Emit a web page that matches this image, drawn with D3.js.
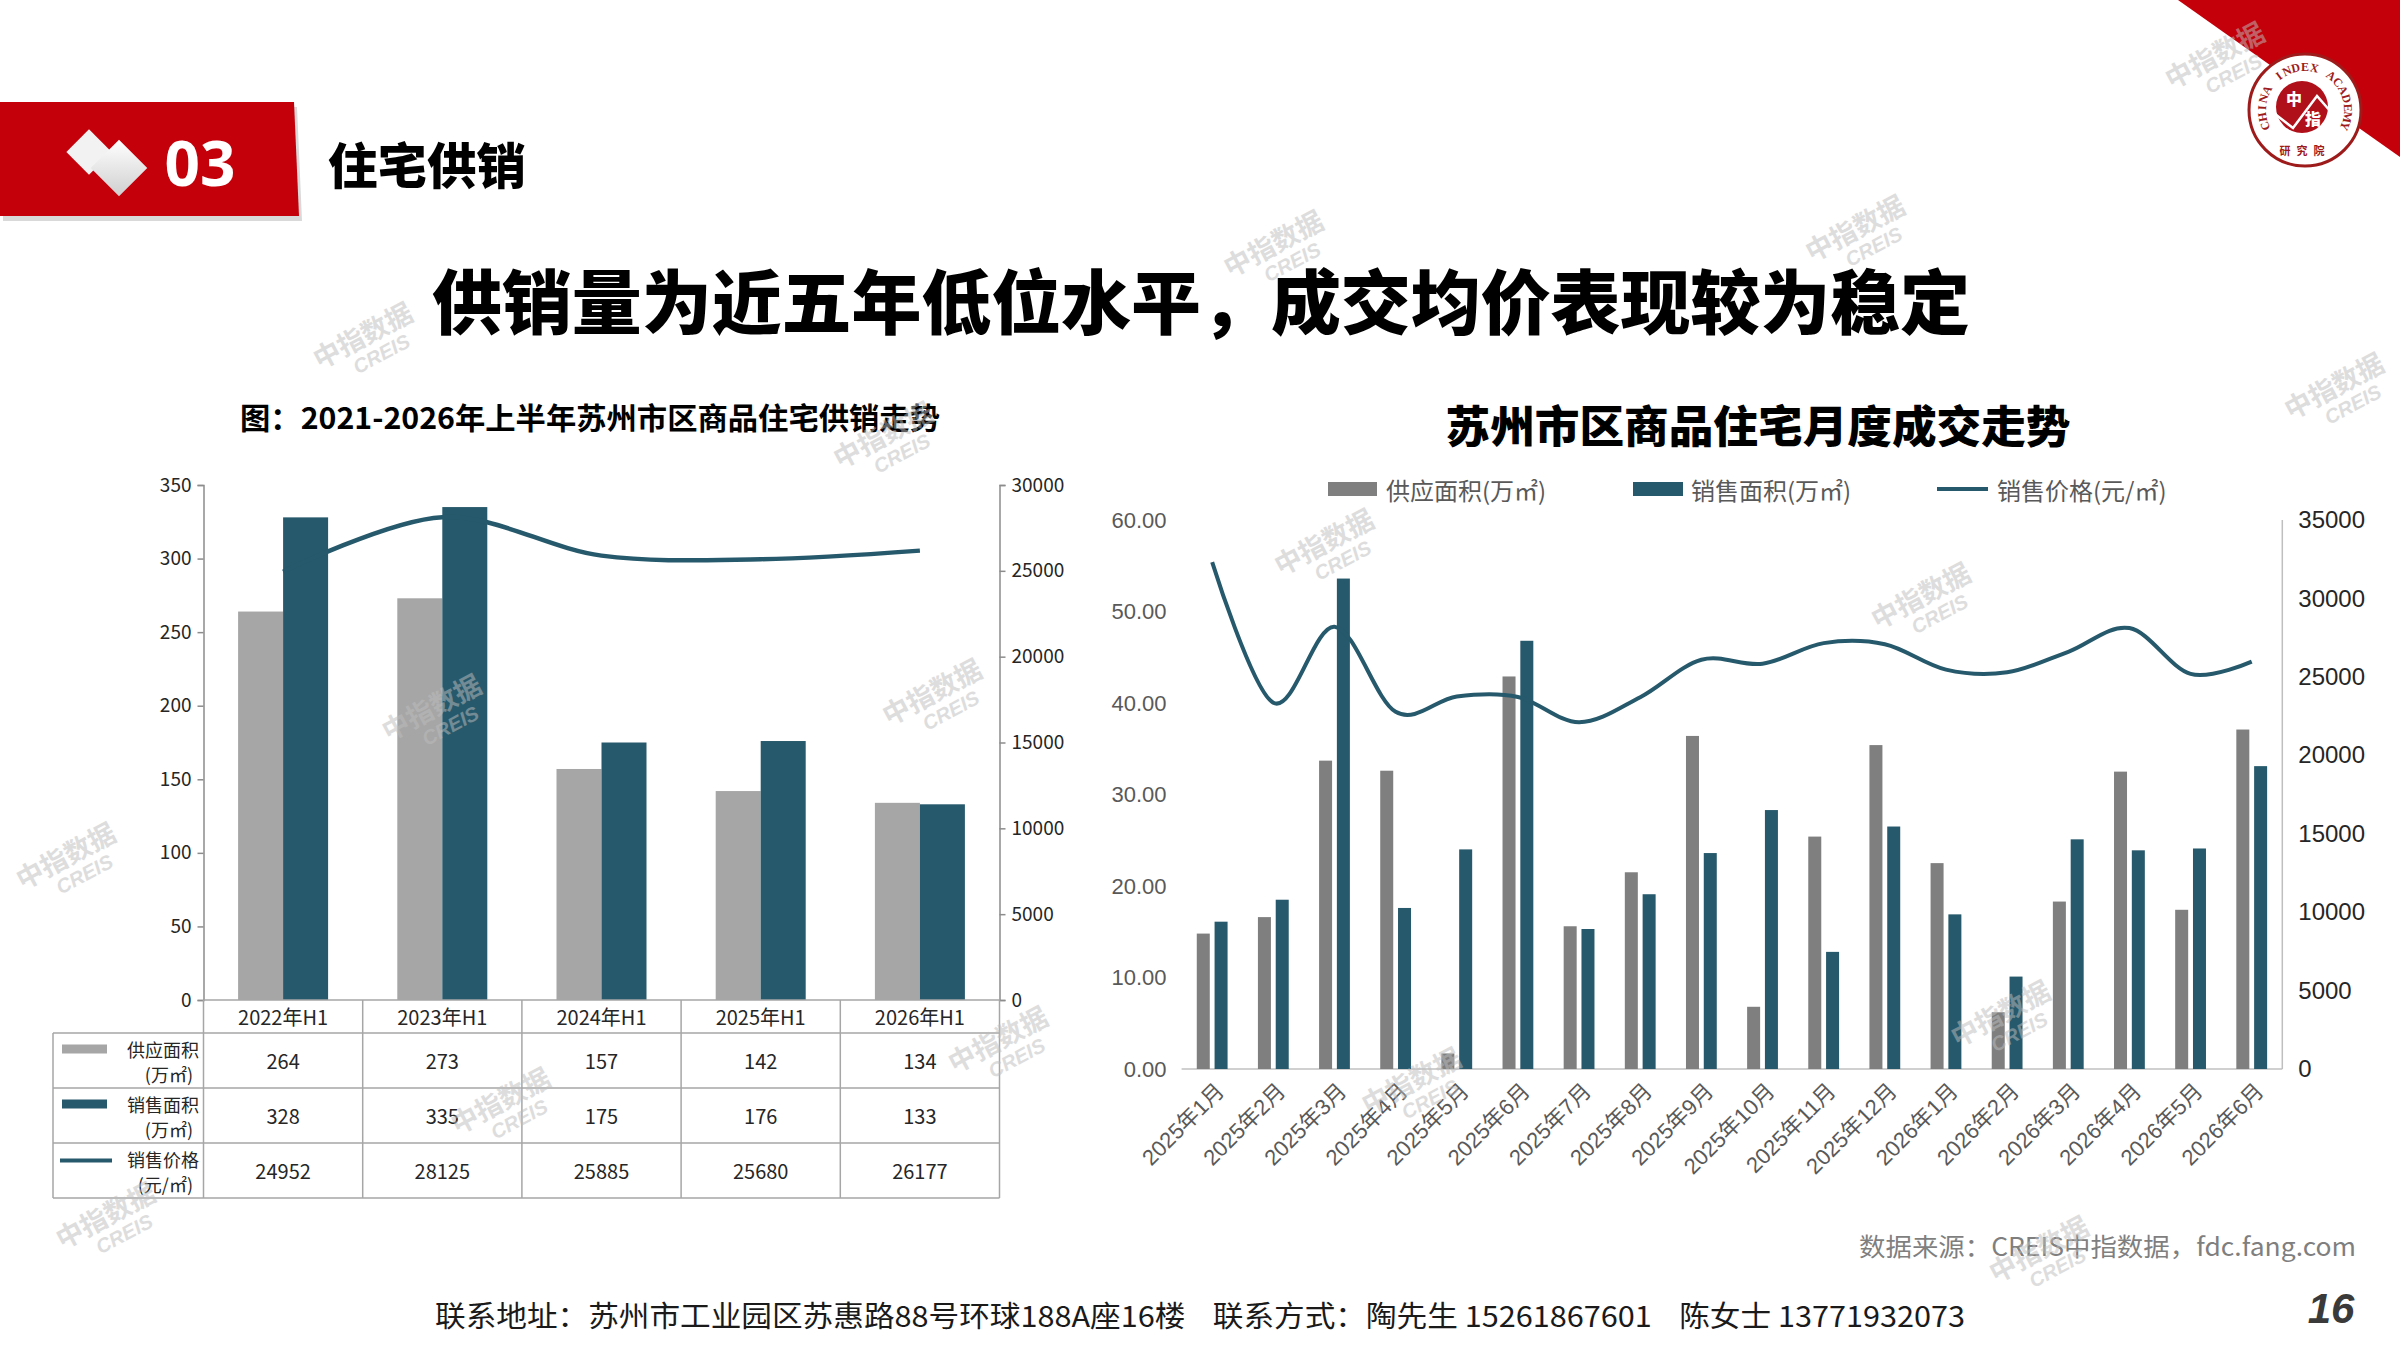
<!DOCTYPE html>
<html>
<head>
<meta charset="utf-8">
<script src="https://cdn.jsdelivr.net/npm/d3@7"></script>
<style>
body { margin: 0; background: #fff; }
svg { display: block; }
</style>
</head>
<body>
<svg id="mysvg" width="2400" height="1350"></svg>
<script>
// left chart: half-year data
var halfYears = ["2022年H1", "2023年H1", "2024年H1", "2025年H1", "2026年H1"];
var halfSupply = [264, 273, 157, 142, 134];
var halfSales = [328, 335, 175, 176, 133];
var halfPrice = [24952, 28125, 25885, 25680, 26177];
var halfAreaTicks = [0, 50, 100, 150, 200, 250, 300, 350];
var halfPriceTicks = [0, 5000, 10000, 15000, 20000, 25000, 30000];
var halfRowNames = [["供应面积", "(万㎡)"], ["销售面积", "(万㎡)"], ["销售价格", "(元/㎡)"]];

// right chart: monthly data
var months = ["2025年1月", "2025年2月", "2025年3月", "2025年4月", "2025年5月", "2025年6月",
	"2025年7月", "2025年8月", "2025年9月", "2025年10月", "2025年11月", "2025年12月",
	"2026年1月", "2026年2月", "2026年3月", "2026年4月", "2026年5月", "2026年6月"];
var monthSupply = [14.8, 16.6, 33.7, 32.6, 1.7, 42.9, 15.6, 21.5, 36.4, 6.8, 25.4, 35.4, 22.5, 6.2, 18.3, 32.5, 17.4, 37.1];
var monthSales = [16.1, 18.5, 53.6, 17.6, 24.0, 46.8, 15.3, 19.1, 23.6, 28.3, 12.8, 26.5, 16.9, 10.1, 25.1, 23.9, 24.1, 33.1];
var monthPrice = [32320, 23350, 28200, 22770, 23750, 23720, 22110, 23700, 26090, 25840, 27150, 27080, 25460, 25290, 26600, 28110, 25190, 25970];
var monthAreaTicks = [0, 10, 20, 30, 40, 50, 60];
var monthPriceTicks = [0, 5000, 10000, 15000, 20000, 25000, 30000, 35000];
var monthLegend = ["供应面积(万㎡)", "销售面积(万㎡)", "销售价格(元/㎡)"];

var GREY_L = "#a6a6a6";
var GREY_R = "#7f7f7f";
var NAVY = "#26596b";
var RED = "#c4000b";
var CJK = "'Noto Sans CJK SC', 'Noto Sans', sans-serif";
var ARIAL = "'Liberation Sans', 'Noto Sans CJK SC', sans-serif";

var svg = d3.select("#mysvg");

function drawWatermarks () {
	var spots = [[240,225],[835,165],[1215,155],[580,290],[868,360],[1258,395],[285,468],[612,458],
		[46,565],[655,685],[330,725],[925,712],[1310,668],[1528,258],[72,800],[1335,822],[1450,42]];
	var g = svg.append("g").attr("class", "watermarks");
	spots.forEach(function (p) {
		var w = g.append("g")
			.attr("transform", "translate(" + (p[0] * 1.5306) + "," + (p[1] * 1.5306) + ") rotate(-28)")
			.attr("fill", "#bdbdbd").attr("opacity", 0.5);
		w.append("text").attr("text-anchor", "middle").attr("font-family", CJK)
			.attr("font-size", 27).attr("font-weight", 700).text("中指数据");
		w.append("text").attr("x", 8).attr("y", 22).attr("text-anchor", "middle").attr("font-family", ARIAL)
			.attr("font-size", 20).attr("font-style", "italic").attr("font-weight", 700).text("CREIS");
	});
}

function drawHeader () {
	svg.append("path").attr("d", "M0,104 L294,104 L299,218 L0,218 Z").attr("fill", "#d9d9d9").attr("transform", "translate(3,3)");
	svg.append("path").attr("d", "M0,102 L294,102 L299,216 L0,216 Z").attr("fill", RED);

	var defs = svg.append("defs");
	var grad = defs.append("linearGradient").attr("id", "diag").attr("x1", 0).attr("y1", 0).attr("x2", 1).attr("y2", 1);
	grad.append("stop").attr("offset", "0%").attr("stop-color", "#ffffff");
	grad.append("stop").attr("offset", "100%").attr("stop-color", "#cfcfcf");

	svg.append("rect").attr("x", -16).attr("y", -16).attr("width", 32).attr("height", 32)
		.attr("fill", "#f2f2f2").attr("transform", "translate(89,152) rotate(45)");
	svg.append("rect").attr("x", -20).attr("y", -20).attr("width", 40).attr("height", 40)
		.attr("fill", "url(#diag)").attr("transform", "translate(119,168) rotate(45)");

	svg.append("text").attr("x", 200).attr("y", 162).attr("text-anchor", "middle").attr("dominant-baseline", "central")
		.attr("font-family", "'Open Sans', 'Noto Sans', sans-serif").attr("font-weight", 700).attr("font-size", 62)
		.attr("fill", "#fff").text("03");
	svg.append("text").attr("x", 328).attr("y", 162).attr("dominant-baseline", "central")
		.attr("font-family", CJK).attr("font-weight", 900).attr("font-size", 49)
		.attr("textLength", 198).attr("lengthAdjust", "spacingAndGlyphs")
		.attr("fill", "#000").text("住宅供销");

	// corner triangle and logo
	svg.append("path").attr("d", "M2178,0 L2400,0 L2400,157 Z").attr("fill", RED);
	var logo = svg.append("g").attr("transform", "translate(2305,110)");
	logo.append("circle").attr("r", 56).attr("fill", "#fff").attr("stroke", "#9e1b1b").attr("stroke-width", 3);
	logo.append("circle").attr("r", 26).attr("cx", -3).attr("cy", -3).attr("fill", "#b0101a");
	var ring = "CHINA INDEX ACADEMY".split("");
	logo.selectAll(".ring").data(ring).enter().append("text")
		.attr("transform", function (d, i) {
			var a = -112 + i * 224 / (ring.length - 1);
			var r = a * Math.PI / 180;
			return "translate(" + (43 * Math.sin(r)) + "," + (-43 * Math.cos(r)) + ") rotate(" + a + ")";
		})
		.attr("text-anchor", "middle").attr("dominant-baseline", "central")
		.attr("font-family", "'Liberation Serif', serif").attr("font-size", 12).attr("font-weight", 700)
		.attr("fill", "#9e1b1b").text(function (d) { return d; });
	logo.append("text").attr("x", -11).attr("y", -5).attr("text-anchor", "middle").attr("font-family", CJK)
		.attr("font-size", 16).attr("font-weight", 900).attr("fill", "#fff").text("中");
	logo.append("text").attr("x", 8).attr("y", 15).attr("text-anchor", "middle").attr("font-family", CJK)
		.attr("font-size", 16).attr("font-weight", 900).attr("fill", "#fff").text("指");
	logo.append("path").attr("d", "M-30,4 L-12,18 L12,-14 L26,2").attr("fill", "none").attr("stroke", "#fff").attr("stroke-width", 2.5);
	logo.append("text").attr("y", 45).attr("text-anchor", "middle").attr("font-family", CJK)
		.attr("font-size", 11).attr("font-weight", 700).attr("fill", "#9e1b1b").attr("letter-spacing", 6).text("研究院");

	svg.append("text").attr("x", 1201).attr("y", 298).attr("text-anchor", "middle").attr("dominant-baseline", "central")
		.attr("font-family", CJK).attr("font-weight", 900).attr("font-size", 70)
		.attr("textLength", 1538).attr("lengthAdjust", "spacingAndGlyphs")
		.attr("fill", "#000").text("供销量为近五年低位水平，成交均价表现较为稳定");
}

function drawHalfYearChart () {
	var left = 203.5, right = 999.5, top = 485, bottom = 1000;
	var x = d3.scaleBand().domain(halfYears).range([left, right]);
	var y = d3.scaleLinear().domain([0, 350]).range([bottom, top]);
	var yp = d3.scaleLinear().domain([0, 30000]).range([bottom, top]);
	var bw = 45;

	svg.append("text").attr("x", 590).attr("y", 416).attr("text-anchor", "middle").attr("dominant-baseline", "central")
		.attr("font-family", CJK).attr("font-weight", 700).attr("font-size", 30)
		.attr("textLength", 700).attr("lengthAdjust", "spacingAndGlyphs")
		.attr("fill", "#000").text("图：2021-2026年上半年苏州市区商品住宅供销走势");

	var g = svg.append("g");
	g.selectAll(".supply").data(halfYears).enter().append("rect")
		.attr("x", function (d) { return x(d) + x.bandwidth() / 2 - bw; })
		.attr("y", function (d, i) { return y(halfSupply[i]); })
		.attr("width", bw)
		.attr("height", function (d, i) { return bottom - y(halfSupply[i]); })
		.attr("fill", GREY_L);
	g.selectAll(".sales").data(halfYears).enter().append("rect")
		.attr("x", function (d) { return x(d) + x.bandwidth() / 2; })
		.attr("y", function (d, i) { return y(halfSales[i]); })
		.attr("width", bw)
		.attr("height", function (d, i) { return bottom - y(halfSales[i]); })
		.attr("fill", NAVY);

	var line = d3.line()
		.x(function (d, i) { return x(halfYears[i]) + x.bandwidth() / 2; })
		.y(function (d) { return yp(d); })
		.curve(d3.curveCardinal.tension(0));
	g.append("path").datum(halfPrice).attr("d", line).attr("fill", "none")
		.attr("stroke", NAVY).attr("stroke-width", 4.5);

	var axL = g.append("g").attr("transform", "translate(" + left + ",0)")
		.call(d3.axisLeft(y).tickValues(halfAreaTicks).tickSize(6).tickPadding(6));
	var axR = g.append("g").attr("transform", "translate(" + right + ",0)")
		.call(d3.axisRight(yp).tickValues(halfPriceTicks).tickSize(6).tickPadding(6).tickFormat(d3.format("d")));
	[axL, axR].forEach(function (ax) {
		ax.select(".domain").attr("stroke", "#8c8c8c").attr("stroke-width", 1.5);
		ax.selectAll(".tick line").attr("stroke", "#8c8c8c").attr("stroke-width", 1.5);
		ax.selectAll(".tick text").attr("font-family", CJK).attr("font-size", 19).attr("fill", "#262626");
	});

	// data table under the chart
	var rowTops = [1000, 1033, 1088, 1143, 1198];
	var tableLeft = 53;
	var t = svg.append("g").attr("stroke", "#a6a6a6").attr("stroke-width", 1.5);
	rowTops.forEach(function (ry, i) {
		t.append("line").attr("x1", i == 0 ? left : tableLeft).attr("x2", right).attr("y1", ry).attr("y2", ry);
	});
	halfYears.forEach(function (d) {
		t.append("line").attr("x1", x(d)).attr("x2", x(d)).attr("y1", rowTops[0]).attr("y2", rowTops[4]);
	});
	t.append("line").attr("x1", right).attr("x2", right).attr("y1", rowTops[0]).attr("y2", rowTops[4]);
	t.append("line").attr("x1", tableLeft).attr("x2", tableLeft).attr("y1", rowTops[1]).attr("y2", rowTops[4]);

	var cells = svg.append("g").attr("font-family", CJK).attr("fill", "#262626").attr("text-anchor", "middle");
	cells.selectAll(".hy").data(halfYears).enter().append("text")
		.attr("x", function (d) { return x(d) + x.bandwidth() / 2; })
		.attr("y", (rowTops[0] + rowTops[1]) / 2).attr("dominant-baseline", "central")
		.attr("font-size", 20).text(function (d) { return d; });
	[halfSupply, halfSales, halfPrice].forEach(function (arr, r) {
		cells.selectAll(".v" + r).data(arr).enter().append("text")
			.attr("x", function (d, i) { return x(halfYears[i]) + x.bandwidth() / 2; })
			.attr("y", (rowTops[r + 1] + rowTops[r + 2]) / 2).attr("dominant-baseline", "central")
			.attr("font-size", 20).text(function (d) { return d; });
	});

	halfRowNames.forEach(function (nm, r) {
		var mid = (rowTops[r + 1] + rowTops[r + 2]) / 2;
		cells.append("text").attr("x", 199).attr("y", mid - 12).attr("text-anchor", "end")
			.attr("dominant-baseline", "central").attr("font-size", 18).text(nm[0]);
		cells.append("text").attr("x", 193).attr("y", mid + 13).attr("text-anchor", "end")
			.attr("dominant-baseline", "central").attr("font-size", 18).text(nm[1]);
		if (r < 2) {
			cells.append("rect").attr("x", 62).attr("y", mid - 16).attr("width", 45).attr("height", 9)
				.attr("fill", r == 0 ? GREY_L : NAVY);
		} else {
			cells.append("line").attr("x1", 60).attr("x2", 112).attr("y1", mid - 10).attr("y2", mid - 10)
				.attr("stroke", NAVY).attr("stroke-width", 4);
		}
	});
}

function drawMonthChart () {
	var left = 1181.6, right = 2282.3, top = 520, bottom = 1069;
	var x = d3.scaleBand().domain(months).range([left, right]);
	var y = d3.scaleLinear().domain([0, 60]).range([bottom, top]);
	var yp = d3.scaleLinear().domain([0, 35000]).range([bottom, top]);
	var bw = 13;

	svg.append("text").attr("x", 1758).attr("y", 424).attr("text-anchor", "middle").attr("dominant-baseline", "central")
		.attr("font-family", CJK).attr("font-weight", 900).attr("font-size", 44)
		.attr("textLength", 625).attr("lengthAdjust", "spacingAndGlyphs")
		.attr("fill", "#000").text("苏州市区商品住宅月度成交走势");

	// legend
	var lg = svg.append("g").attr("font-family", CJK).attr("font-size", 24).attr("fill", "#595959");
	var lx = [1328, 1633, 1937];
	lg.append("rect").attr("x", lx[0]).attr("y", 482).attr("width", 49).attr("height", 14).attr("fill", GREY_R);
	lg.append("rect").attr("x", lx[1]).attr("y", 482).attr("width", 50).attr("height", 14).attr("fill", NAVY);
	lg.append("line").attr("x1", lx[2]).attr("x2", lx[2] + 51).attr("y1", 489).attr("y2", 489)
		.attr("stroke", NAVY).attr("stroke-width", 4);
	lg.selectAll(".lt").data(monthLegend).enter().append("text")
		.attr("x", function (d, i) { return lx[i] + (i == 2 ? 60 : 58); })
		.attr("y", 489).attr("dominant-baseline", "central").text(function (d) { return d; });

	var g = svg.append("g");
	g.append("line").attr("x1", left).attr("x2", right).attr("y1", bottom).attr("y2", bottom)
		.attr("stroke", "#d0d0d0").attr("stroke-width", 2);
	g.append("line").attr("x1", right).attr("x2", right).attr("y1", top).attr("y2", bottom)
		.attr("stroke", "#bfbfbf").attr("stroke-width", 1.5);

	g.selectAll(".ms").data(months).enter().append("rect")
		.attr("x", function (d) { return x(d) + x.bandwidth() / 2 - 2.4 - bw; })
		.attr("y", function (d, i) { return y(monthSupply[i]); })
		.attr("width", bw)
		.attr("height", function (d, i) { return bottom - y(monthSupply[i]); })
		.attr("fill", GREY_R);
	g.selectAll(".mv").data(months).enter().append("rect")
		.attr("x", function (d) { return x(d) + x.bandwidth() / 2 + 2.4; })
		.attr("y", function (d, i) { return y(monthSales[i]); })
		.attr("width", bw)
		.attr("height", function (d, i) { return bottom - y(monthSales[i]); })
		.attr("fill", NAVY);

	var line = d3.line()
		.x(function (d, i) { return x(months[i]) + x.bandwidth() / 2; })
		.y(function (d) { return yp(d); })
		.curve(d3.curveCardinal.tension(0));
	g.append("path").datum(monthPrice).attr("d", line).attr("fill", "none")
		.attr("stroke", NAVY).attr("stroke-width", 4);

	var axL = g.append("g").attr("transform", "translate(" + left + ",0)")
		.call(d3.axisLeft(y).tickValues(monthAreaTicks).tickSize(0).tickPadding(15).tickFormat(d3.format(".2f")));
	axL.select(".domain").remove();
	axL.selectAll(".tick text").attr("font-family", ARIAL).attr("font-size", 22).attr("fill", "#595959");

	var axR = g.append("g").attr("transform", "translate(" + right + ",0)")
		.call(d3.axisRight(yp).tickValues(monthPriceTicks).tickSize(0).tickPadding(16).tickFormat(d3.format("d")));
	axR.select(".domain").remove();
	axR.selectAll(".tick text").attr("font-family", ARIAL).attr("font-size", 24).attr("fill", "#262626");

	var axB = g.append("g").attr("transform", "translate(0," + bottom + ")")
		.call(d3.axisBottom(x).tickSize(0).tickPadding(0));
	axB.select(".domain").remove();
	axB.selectAll(".tick text")
		.attr("font-family", ARIAL).attr("font-size", 22).attr("fill", "#595959")
		.attr("text-anchor", "end")
		.attr("dy", "0.35em")
		.attr("transform", "translate(8,18) rotate(-45)");
}

function drawFooter () {
	svg.append("text").attr("x", 2356).attr("y", 1245).attr("text-anchor", "end").attr("dominant-baseline", "central")
		.attr("font-family", CJK).attr("font-size", 25).attr("fill", "#7f7f7f")
		.attr("textLength", 497).attr("lengthAdjust", "spacingAndGlyphs")
		.text("数据来源：CREIS中指数据，fdc.fang.com");
	svg.append("text").attr("x", 435).attr("y", 1314).attr("dominant-baseline", "central")
		.attr("font-family", CJK).attr("font-size", 29).attr("fill", "#1a1a1a")
		.attr("textLength", 1530).attr("lengthAdjust", "spacingAndGlyphs")
		.attr("xml:space", "preserve")
		.text("联系地址：苏州市工业园区苏惠路88号环球188A座16楼    联系方式：陶先生 15261867601    陈女士 13771932073");
	svg.append("text").attr("x", 2331).attr("y", 1308).attr("text-anchor", "middle").attr("dominant-baseline", "central")
		.attr("font-family", "'Liberation Sans', sans-serif").attr("font-size", 42).attr("font-weight", 700)
		.attr("font-style", "italic").attr("fill", "#3a3a3a").text("16");
}

drawHeader();
drawHalfYearChart();
drawMonthChart();
drawFooter();
drawWatermarks();
</script>
</body>
</html>
